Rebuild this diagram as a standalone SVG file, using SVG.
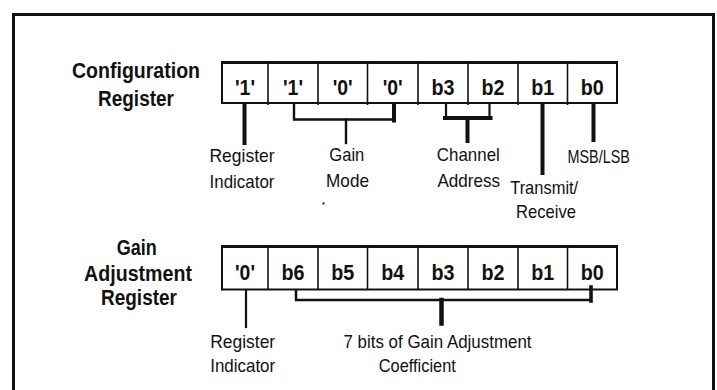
<svg xmlns="http://www.w3.org/2000/svg" width="717" height="390" viewBox="0 0 717 390">
<style>
text{font-family:"Liberation Sans",Arial,sans-serif;fill:#111}
.h{font-size:21.5px;font-weight:bold;text-anchor:middle}
.c{font-size:21.5px;font-weight:bold;text-anchor:middle}
.l{font-size:19px;text-anchor:middle}
.box{fill:#fff;stroke:#111;stroke-width:2}
.div{stroke:#111;stroke-width:1.6}
.cn{stroke:#111;fill:none;stroke-linecap:square}
</style>
<rect x="0" y="0" width="717" height="390" fill="#fff"/>
<rect id="frame" x="13.5" y="14.5" width="700" height="400" fill="none" stroke="#111" stroke-width="3"/>

<g id="config-label">
<text class="h" x="136" y="78" textLength="128" lengthAdjust="spacingAndGlyphs">Configuration</text>
<text class="h" x="136" y="106" textLength="76" lengthAdjust="spacingAndGlyphs">Register</text>
</g>

<g id="config-register">
<rect class="box" x="222" y="62.5" width="395" height="40.5"/>
<line x1="221" y1="62.5" x2="618" y2="62.5" stroke="#111" stroke-width="3"/>
<line class="div" x1="268" y1="62" x2="268" y2="105"/>
<line class="div" x1="318" y1="62" x2="318" y2="105"/>
<line class="div" x1="367.5" y1="62" x2="367.5" y2="105"/>
<line class="div" x1="418" y1="62" x2="418" y2="105"/>
<line class="div" x1="468" y1="62" x2="468" y2="105"/>
<line class="div" x1="518" y1="62" x2="518" y2="105"/>
<line class="div" x1="567.5" y1="62" x2="567.5" y2="105"/>
<text class="c" x="245" y="95" textLength="20" lengthAdjust="spacingAndGlyphs">'1'</text>
<text class="c" x="293" y="95" textLength="20" lengthAdjust="spacingAndGlyphs">'1'</text>
<text class="c" x="342.7" y="95" textLength="20" lengthAdjust="spacingAndGlyphs">'0'</text>
<text class="c" x="392.7" y="95" textLength="20" lengthAdjust="spacingAndGlyphs">'0'</text>
<text class="c" x="443" y="95" textLength="23" lengthAdjust="spacingAndGlyphs">b3</text>
<text class="c" x="493" y="95" textLength="23" lengthAdjust="spacingAndGlyphs">b2</text>
<text class="c" x="542.7" y="95" textLength="23" lengthAdjust="spacingAndGlyphs">b1</text>
<text class="c" x="592.3" y="95" textLength="23" lengthAdjust="spacingAndGlyphs">b0</text>
</g>

<g id="gain-label">
<text class="h" x="136.7" y="255" textLength="40" lengthAdjust="spacingAndGlyphs">Gain</text>
<text class="h" x="138" y="280.5" textLength="108" lengthAdjust="spacingAndGlyphs">Adjustment</text>
<text class="h" x="139" y="305" textLength="76" lengthAdjust="spacingAndGlyphs">Register</text>
</g>

<g id="gain-register">
<rect class="box" x="222" y="246.5" width="395" height="43"/>
<line x1="221" y1="246.5" x2="618" y2="246.5" stroke="#111" stroke-width="3"/>
<line class="div" x1="268" y1="246" x2="268" y2="289.5"/>
<line class="div" x1="318" y1="246" x2="318" y2="289.5"/>
<line class="div" x1="367.5" y1="246" x2="367.5" y2="289.5"/>
<line class="div" x1="418" y1="246" x2="418" y2="289.5"/>
<line class="div" x1="468" y1="246" x2="468" y2="289.5"/>
<line class="div" x1="518" y1="246" x2="518" y2="289.5"/>
<line class="div" x1="567.5" y1="246" x2="567.5" y2="289.5"/>
<text class="c" x="245" y="280" textLength="20" lengthAdjust="spacingAndGlyphs">'0'</text>
<text class="c" x="293" y="280" textLength="23" lengthAdjust="spacingAndGlyphs">b6</text>
<text class="c" x="342.7" y="280" textLength="23" lengthAdjust="spacingAndGlyphs">b5</text>
<text class="c" x="392.7" y="280" textLength="23" lengthAdjust="spacingAndGlyphs">b4</text>
<text class="c" x="443" y="280" textLength="23" lengthAdjust="spacingAndGlyphs">b3</text>
<text class="c" x="493" y="280" textLength="23" lengthAdjust="spacingAndGlyphs">b2</text>
<text class="c" x="542.7" y="280" textLength="23" lengthAdjust="spacingAndGlyphs">b1</text>
<text class="c" x="592.3" y="280" textLength="23" lengthAdjust="spacingAndGlyphs">b0</text>
</g>

<g id="connectors">
<line class="cn" x1="244.5" y1="104" x2="244.5" y2="143" stroke-width="4" stroke-linecap="butt"/>
<path class="cn" d="M294 104V119.5H394" stroke-width="2.4"/>
<line class="cn" x1="394" y1="104" x2="394" y2="120.5" stroke-width="4" stroke-linecap="butt"/>
<line class="cn" x1="346" y1="119.5" x2="346" y2="143" stroke-width="2.4" stroke-linecap="butt"/>
<path class="cn" d="M446 104V118M489.5 104V118" stroke-width="2.2"/>
<line class="cn" x1="445" y1="118" x2="490.5" y2="118" stroke-width="4" stroke-linecap="butt"/>
<line class="cn" x1="467.5" y1="118" x2="467.5" y2="141" stroke-width="4" stroke-linecap="butt"/>
<line class="cn" x1="542.5" y1="104" x2="542.5" y2="173" stroke-width="4" stroke-linecap="butt"/>
<line class="cn" x1="593.5" y1="104" x2="593.5" y2="140" stroke-width="4" stroke-linecap="butt"/>
<line class="cn" x1="246" y1="290" x2="246" y2="327" stroke-width="2.2" stroke-linecap="butt"/>
<path class="cn" d="M296 290.5V300H591" stroke-width="2.5"/>
<line class="cn" x1="591" y1="287" x2="591" y2="301" stroke-width="3.6" stroke-linecap="butt"/>
<line class="cn" x1="441.5" y1="300" x2="441.5" y2="323.5" stroke-width="4.5" stroke-linecap="butt"/>
</g>

<g id="config-labels">
<text class="l" x="242" y="161.5" textLength="65" lengthAdjust="spacingAndGlyphs">Register</text>
<text class="l" x="242" y="187.5" textLength="65" lengthAdjust="spacingAndGlyphs">Indicator</text>
<text class="l" x="346.8" y="161" textLength="35" lengthAdjust="spacingAndGlyphs">Gain</text>
<text class="l" x="347.5" y="186.5" textLength="43" lengthAdjust="spacingAndGlyphs">Mode</text>
<text class="l" x="468.3" y="161" textLength="63" lengthAdjust="spacingAndGlyphs">Channel</text>
<text class="l" x="468.7" y="186.5" textLength="62.5" lengthAdjust="spacingAndGlyphs">Address</text>
<text class="l" x="544.2" y="194" textLength="68" lengthAdjust="spacingAndGlyphs">Transmit/</text>
<text class="l" x="546" y="217.5" textLength="60" lengthAdjust="spacingAndGlyphs">Receive</text>
<text class="l" x="598.7" y="163.3" style="font-size:17.5px" textLength="62.5" lengthAdjust="spacingAndGlyphs">MSB/LSB</text>
</g>
<rect x="322.5" y="202.5" width="2" height="2" fill="#111"/>

<g id="gain-labels">
<text class="l" x="242.7" y="348" textLength="65" lengthAdjust="spacingAndGlyphs">Register</text>
<text class="l" x="242.7" y="371.5" textLength="65" lengthAdjust="spacingAndGlyphs">Indicator</text>
<text class="l" x="437.5" y="348" textLength="188" lengthAdjust="spacingAndGlyphs">7 bits of Gain Adjustment</text>
<text class="l" x="417.3" y="371.5" textLength="77" lengthAdjust="spacingAndGlyphs">Coefficient</text>
</g>
</svg>
